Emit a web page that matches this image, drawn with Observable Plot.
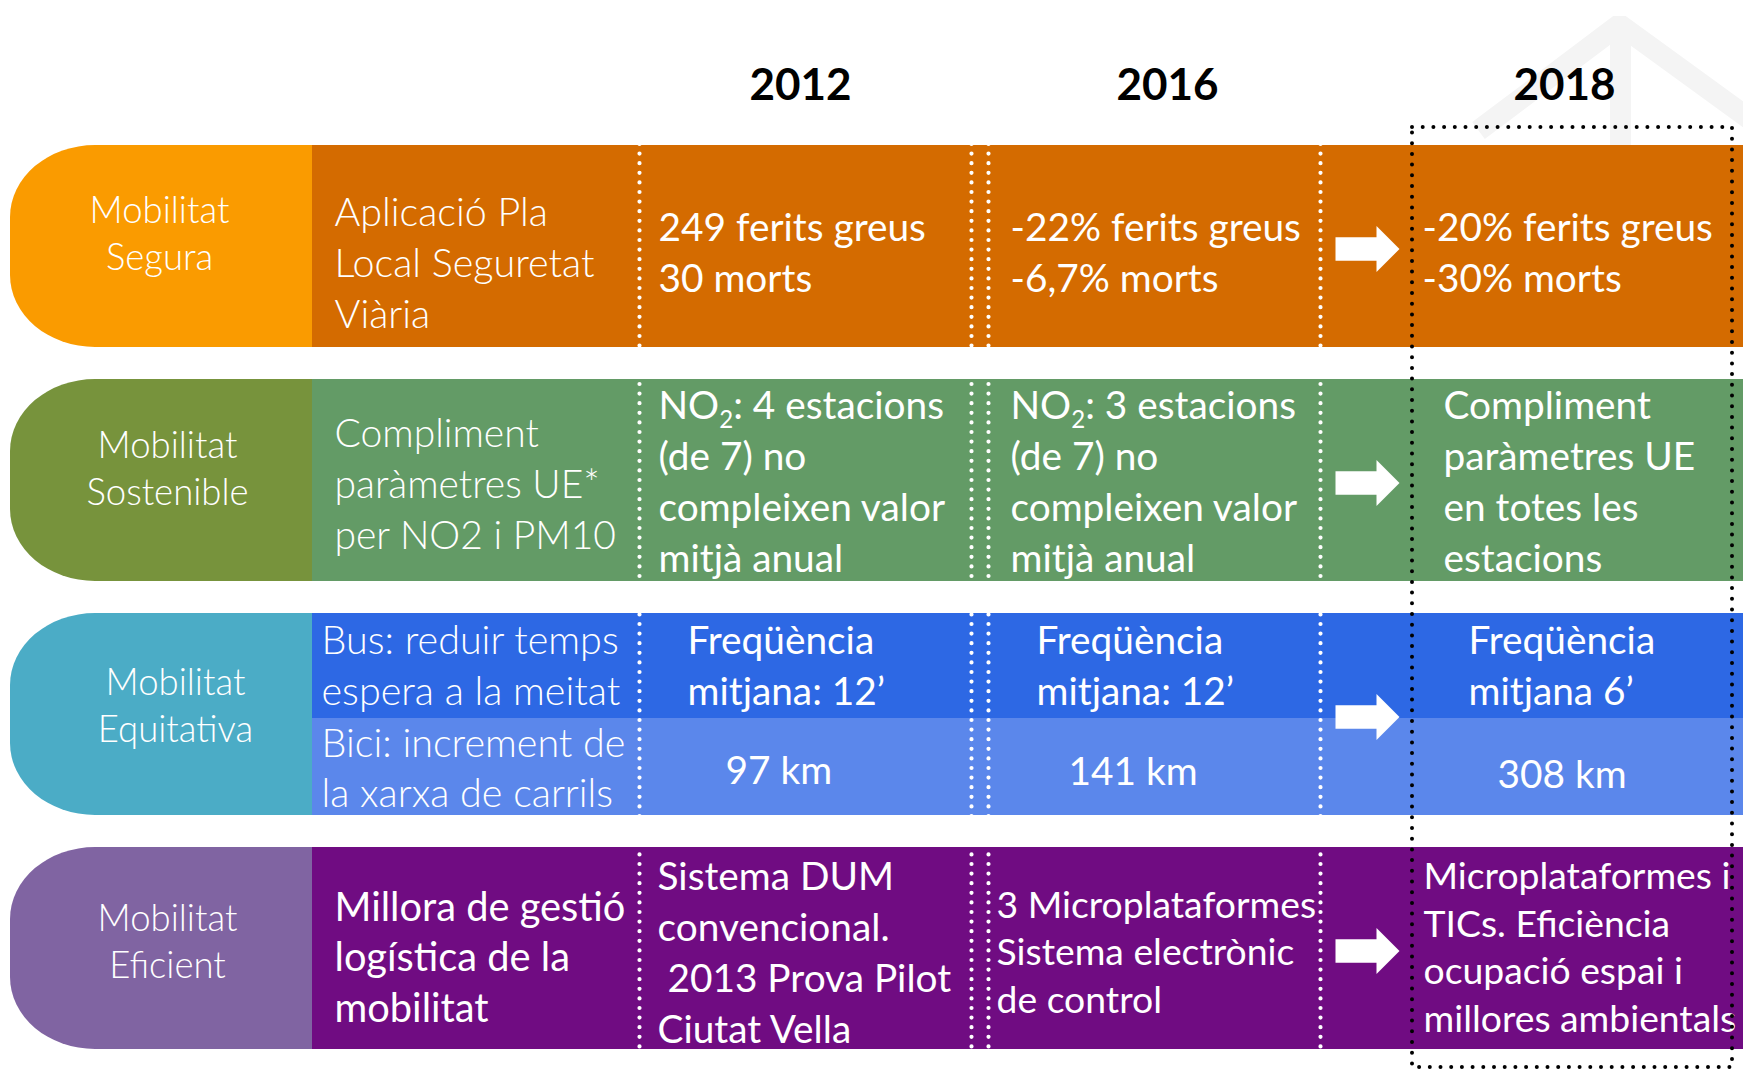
<!DOCTYPE html>
<html>
<head>
<meta charset="utf-8">
<script src="https://cdn.jsdelivr.net/npm/d3@7"></script>
<script src="https://cdn.jsdelivr.net/npm/@observablehq/plot@0.6"></script>
<style>
  html, body { margin: 0; padding: 0; background: #ffffff; overflow: hidden; }
  #chart svg { display: block; }
  #chart svg text { white-space: pre; }
</style>
</head>
<body>
<div id="chart"></div>
<script>
// ---------------- DATA ----------------
const years = ["2012", "2016", "2018"];
const eixos = ["Mobilitat\nSegura", "Mobilitat\nSostenible", "Mobilitat\nEquitativa", "Mobilitat\nEficient"];
const objectius = [
  "Aplicació Pla\nLocal Seguretat\nViària",
  "Compliment\nparàmetres UE*\nper NO2 i PM10",
  null,
  "Millora de gestió\nlogística de la\nmobilitat"
];
const objectiusEquitativa = ["Bus: reduir temps\nespera a la meitat", "Bici: increment de\nla xarxa de carrils"];
const valors2012 = [
  "249 ferits greus\n30 morts",
  "NO₂: 4 estacions\n(de 7) no\ncompleixen valor\nmitjà anual",
  null,
  "Sistema DUM\nconvencional.\n 2013 Prova Pilot\nCiutat Vella"
];
const valors2016 = [
  "-22% ferits greus\n-6,7% morts",
  "NO₂: 3 estacions\n(de 7) no\ncompleixen valor\nmitjà anual",
  null,
  "3 Microplataformes\nSistema electrònic\nde control"
];
const valors2018 = [
  "-20% ferits greus\n-30% morts",
  "Compliment\nparàmetres UE\nen totes les\nestacions",
  null,
  "Microplataformes i\nTICs. Eficiència\nocupació espai i\nmillores ambientals"
];
const busFrequencia = ["Freqüència\nmitjana: 12’", "Freqüència\nmitjana: 12’", "Freqüència\nmitjana 6’"];
const biciKm = ["97 km", "141 km", "308 km"];

// ---------------- STYLE / LAYOUT ----------------
const pillColors = ["#FA9B00", "#77933C", "#4BACC6", "#8064A2"];
const bodyColors = ["#D46B00", "#639B66", "#5B87EB", "#700C82"];
const busColor = "#2D68E4";
const FONT = "Lato, 'Open Sans', 'DejaVu Sans', sans-serif";

const W = 1743, H = 1071;
const L = {
  rowTop: 145, rowStep: 234, rowH: 202, busH: 105,
  pillX1: 10, pillX2: 312,
  whiteDots: [639, 971, 988, 1320],
  box: {x1: 1412, x2: 1732, y1: 127, y2: 1067},
  arrowX: 1367,
  yearX: [800, 1167, 1564], yearY: 85
};
const T = eixos.map((_, i) => L.rowTop + i * L.rowStep);
const bias = -3;
const VS = 38.8; // value text size

// watermark (faint roof shape at top right)
const watermarkRoof = [{x: 1478, y: 130}, {x: 1619, y: 24}, {x: 1765, y: 130}];
const watermarkBar = [{x1: 1610, x2: 1631, y1: 28, y2: 145}];

// ---------------- TABLES ----------------
const rowsData = eixos.map((e, i) => ({
  eix: e, top: T[i], bottom: T[i] + L.rowH, pill: pillColors[i], body: bodyColors[i]
}));

const cells = [];
function add(text, x, row, off, size, weight, lh, anchor = "start") {
  if (text == null) return;
  cells.push({text, x, y: T[row] + off + bias, size, weight, lh: lh / size, anchor});
}
// pills
const pillX = [159, 167, 175, 167];
const pillOff = [88.5, 90, 93, 94.5];
eixos.forEach((t, i) => add(t, pillX[i], i, pillOff[i], 36.5, 300, 47, "middle"));
// objectius
add(objectius[0], 334, 0, 118.5, 39.5, 300, 51);
add(objectius[1], 334, 1, 105.6, 39, 300, 51);
add(objectius[3], 334, 3, 110.5, 39.8, 400, 50.5);
add(objectiusEquitativa[0], 321, 2, 53, 39.5, 300, 50.5);
add(objectiusEquitativa[1], 321, 2, 155.7, 39.5, 300, 50);
// 2012
add(valors2012[0], 658, 0, 108, VS, 400, 50.5);
add(valors2012[1], 658, 1, 102.3, VS, 400, 51);
add(valors2012[3], 657, 3, 106, VS, 400, 51);
// 2016
add(valors2016[0], 1010, 0, 108, VS, 400, 50.5);
add(valors2016[1], 1010, 1, 102.3, VS, 400, 51);
add(valors2016[3], 996, 3, 105.6, 37.3, 400, 47.7);
// 2018
add(valors2018[0], 1422, 0, 108, VS, 400, 50.5);
add(valors2018[1], 1443, 1, 102.3, VS, 400, 51);
add(valors2018[3], 1423, 3, 100.6, 37.3, 400, 47.7);
// Equitativa values
const freqX = [687, 1036, 1468], kmX = [725, 1068, 1497], kmOff = [157, 158, 161];
busFrequencia.forEach((t, j) => add(t, freqX[j], 2, 53, VS, 400, 50.5));
biciKm.forEach((t, j) => add(t, kmX[j], 2, kmOff[j], VS, 400, 50));

// arrow glyph as a custom symbol
const arrowSymbol = {
  draw(ctx, size) {
    const k = Math.sqrt(size / Math.PI) / 32;
    ctx.moveTo(-32 * k, -11.7 * k);
    ctx.lineTo(9 * k, -11.7 * k);
    ctx.lineTo(9 * k, -23 * k);
    ctx.lineTo(32 * k, 0);
    ctx.lineTo(9 * k, 23 * k);
    ctx.lineTo(9 * k, 11.7 * k);
    ctx.lineTo(-32 * k, 11.7 * k);
    ctx.closePath();
  }
};
const arrows = rowsData.map(r => ({x: L.arrowX, y: (r.top + r.bottom) / 2 + 2.5}));

const textMarks = cells.map(c => Plot.text([c], {
  x: "x", y: "y", text: "text", textAnchor: c.anchor, lineAnchor: "middle",
  lineHeight: c.lh, fontSize: c.size, fontWeight: c.weight, fill: "white", fontFamily: FONT
}));

const chart = Plot.plot({
  width: W, height: H, margin: 0,
  x: {domain: [0, W], range: [0, W], axis: null},
  y: {domain: [0, H], range: [0, H], axis: null},
  color: {type: "identity"},
  style: {background: "white", fontFamily: FONT},
  marks: [
    // watermark
    Plot.line(watermarkRoof, {x: "x", y: "y", stroke: "#F4F4F4", strokeWidth: 21, strokeLinejoin: "miter", strokeLinecap: "butt"}),
    Plot.rect(watermarkBar, {x1: "x1", x2: "x2", y1: "y1", y2: "y2", fill: "#F4F4F4"}),
    // rounded pills
    Plot.rect(rowsData, {x1: () => L.pillX1, x2: () => L.pillX2 + 150, y1: "top", y2: "bottom", fill: "pill", rx: 85, ry: 72}),
    // bodies
    Plot.rect(rowsData, {x1: () => L.pillX2, x2: () => W + 5, y1: "top", y2: "bottom", fill: "body"}),
    // bus sub-band
    Plot.rect([rowsData[2]], {x1: () => L.pillX2, x2: () => W + 5, y1: "top", y2: d => d.top + L.busH, fill: () => busColor}),
    // white dotted separators
    Plot.ruleX(L.whiteDots, {stroke: "white", strokeWidth: 4.2, strokeDasharray: "0 9.6", strokeLinecap: "round"}),
    // arrows
    Plot.dot(arrows, {x: "x", y: "y", r: 32, symbol: arrowSymbol, fill: "white", stroke: null}),
    // texts
    ...textMarks,
    // 2018 dotted box
    Plot.rect([L.box], {x1: "x1", x2: "x2", y1: "y1", y2: "y2", fill: "none", stroke: "black", strokeWidth: 4, strokeDasharray: "0 10.7", strokeLinecap: "round"}),
    // year headers
    Plot.text(years, {x: (d, i) => L.yearX[i], y: () => L.yearY, text: d => d, fontSize: 44, fontWeight: 700, fill: "black", fontFamily: FONT, textAnchor: "middle"})
  ]
});

// subscript for NO₂
const NS = "http://www.w3.org/2000/svg";
chart.querySelectorAll("text, tspan").forEach(el => {
  if (el.children.length === 0 && el.textContent.includes("₂")) {
    const parts = el.textContent.split("₂");
    el.textContent = parts[0];
    for (let i = 1; i < parts.length; i++) {
      const sub = document.createElementNS(NS, "tspan");
      sub.setAttribute("font-size", "0.62em");
      sub.setAttribute("dy", "9");
      sub.textContent = "2";
      el.appendChild(sub);
      const rest = document.createElementNS(NS, "tspan");
      rest.setAttribute("dy", "-9");
      rest.textContent = parts[i];
      el.appendChild(rest);
    }
  }
});

document.getElementById("chart").appendChild(chart);
</script>
</body>
</html>
